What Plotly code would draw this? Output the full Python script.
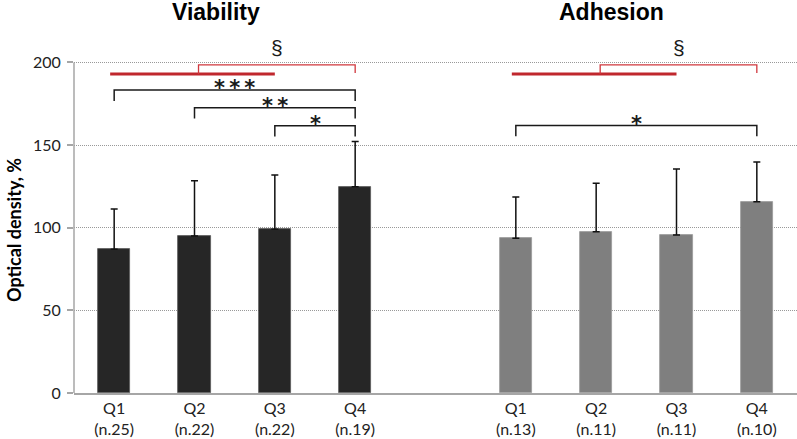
import plotly.graph_objects as go

# ---------------- data ----------------
quartiles = ["Q1", "Q2", "Q3", "Q4"]
viab_n = [25, 22, 22, 19]
adh_n = [13, 11, 11, 10]
viab_mean = [86.9, 95.0, 99.0, 124.8]
viab_err = [24.4, 33.4, 32.9, 27.4]
adh_mean = [93.6, 97.6, 95.6, 115.7]
adh_err = [25.0, 29.3, 39.9, 24.0]
y_ticks = [0, 50, 100, 150, 200]
panel_titles = ["Viability", "Adhesion"]

# significance brackets (from, to, height, label)
viab_sig = [("Q1", "Q4", 183.3, "***"), ("Q2", "Q4", 172.6, "**"), ("Q3", "Q4", 161.7, "*")]
adh_sig = [("Q1", "Q4", 161.9, "*")]
# trend (§) brackets: group line Q1..Q3 at level, link from Q2 to Q4 at top
trend_group_y = 193.0
trend_top_y = 198.5
trend_label = "§"

# ---------------- layout helpers ----------------
group_offsets = [0, 5]
pos_v = [group_offsets[0] + i for i in range(len(quartiles))]
pos_a = [group_offsets[1] + i for i in range(len(quartiles))]
idx = {q: i for i, q in enumerate(quartiles)}

ticktext = [f"{q}<br>(n.{n})" for q, n in zip(quartiles, viab_n)] + \
           [f"{q}<br>(n.{n})" for q, n in zip(quartiles, adh_n)]

FONT = "Lato, Calibri, Carlito, sans-serif"

fig = go.Figure()
fig.add_trace(go.Bar(
    x=pos_v, y=viab_mean, width=0.4,
    marker=dict(color="#262626", line=dict(color="#5a5a5a", width=0.8)),
    error_y=dict(type="data", array=viab_err, symmetric=False, arrayminus=[0] * 4,
                 color="#111111", thickness=1.5, width=3.5),
    showlegend=False, hoverinfo="skip",
))
fig.add_trace(go.Bar(
    x=pos_a, y=adh_mean, width=0.4,
    marker=dict(color="#7f7f7f", line=dict(color="#9a9a9a", width=0.8)),
    error_y=dict(type="data", array=adh_err, symmetric=False, arrayminus=[0] * 4,
                 color="#111111", thickness=1.5, width=3.5),
    showlegend=False, hoverinfo="skip",
))

shapes = []
annotations = []
LEG = 6.6
THIN = "\u2009"

def add_sig(offset, sig):
    for a, b, h, lab in sig:
        x0 = offset + idx[a]
        x1 = offset + idx[b]
        shapes.append(dict(type="path", xref="x", yref="y",
                           path=f"M {x0},{h - LEG} L {x0},{h} L {x1},{h} L {x1},{h - LEG}",
                           line=dict(color="#1a1a1a", width=1.5)))
        annotations.append(dict(x=(x0 + x1) / 2, y=h + 1.0, xref="x", yref="y",
                                text="<b>" + THIN.join(lab) + "</b>", showarrow=False,
                                yanchor="middle",
                                font=dict(family="DejaVu Sans", size=21, color="#1a1a1a")))

def add_trend(offset):
    x0 = offset + idx["Q1"] - 0.05
    x1 = offset + idx["Q3"]
    shapes.append(dict(type="line", xref="x", yref="y", x0=x0, x1=x1,
                       y0=trend_group_y, y1=trend_group_y,
                       line=dict(color="#c0272d", width=3)))
    xa = offset + idx["Q2"] + 0.05
    xb = offset + idx["Q4"]
    shapes.append(dict(type="path", xref="x", yref="y",
                       path=f"M {xa},{trend_group_y} L {xa},{trend_top_y} L {xb},{trend_top_y} L {xb},{trend_group_y + 0.6}",
                       line=dict(color="#d0373d", width=1.3)))
    annotations.append(dict(x=(xa + xb) / 2, y=trend_top_y + 10.5, xref="x", yref="y",
                            text=trend_label, showarrow=False, yanchor="middle",
                            font=dict(family="Liberation Sans", size=21, color="#1a1a1a")))

add_sig(group_offsets[0], viab_sig)
add_sig(group_offsets[1], adh_sig)
add_trend(group_offsets[0])
add_trend(group_offsets[1])

# y axis line only from 0 to 200
shapes.append(dict(type="line", xref="paper", yref="y", x0=0, x1=0, y0=0, y1=y_ticks[-1],
                   line=dict(color="#a6a6a6", width=1.5)))

# panel titles
annotations.append(dict(x=1.27, y=230.2, xref="x", yref="y", text=f"<b>{panel_titles[0]}</b>",
                        showarrow=False, yanchor="middle",
                        font=dict(family="Liberation Sans", size=23, color="#000000")))
annotations.append(dict(x=6.19, y=230.2, xref="x", yref="y", text=f"<b>{panel_titles[1]}</b>",
                        showarrow=False, yanchor="middle",
                        font=dict(family="Liberation Sans", size=23, color="#000000")))
# y title
annotations.append(dict(x=-0.083, y=98.6, xref="paper", yref="y", text="<b>Optical density, %</b>",
                        showarrow=False, textangle=-90, xanchor="center", yanchor="middle",
                        font=dict(family=FONT, size=18, color="#000000")))

fig.update_layout(
    width=797, height=439,
    margin=dict(l=74, r=0, t=10, b=46),
    plot_bgcolor="white", paper_bgcolor="white",
    bargap=0,
    shapes=shapes, annotations=annotations,
    font=dict(family=FONT, size=15, color="#222222"),
)
fig.update_xaxes(
    range=[-0.5, 8.5], tickvals=pos_v + pos_a, ticktext=ticktext,
    showline=True, linecolor="#a6a6a6", linewidth=1.5,
    ticks="", showgrid=False, zeroline=False,
    tickfont=dict(family=FONT, size=16, color="#222222"),
)
fig.update_yaxes(
    range=[0, 231.7], tickvals=y_ticks, showline=False,
    ticks="outside", ticklen=6, tickcolor="#a6a6a6", tickwidth=1.5,
    ticklabelstandoff=3,
    showgrid=True, gridcolor="#999999", griddash="1px,1px", gridwidth=1,
    zeroline=False,
    tickfont=dict(family=FONT, size=16, color="#222222"),
)

# remove the default 8px page margin so the figure fills the window exactly
fig.write_html("out.html",
               config={"displayModeBar": False},
               post_script="document.body.style.margin='0';document.body.style.overflow='hidden';")
